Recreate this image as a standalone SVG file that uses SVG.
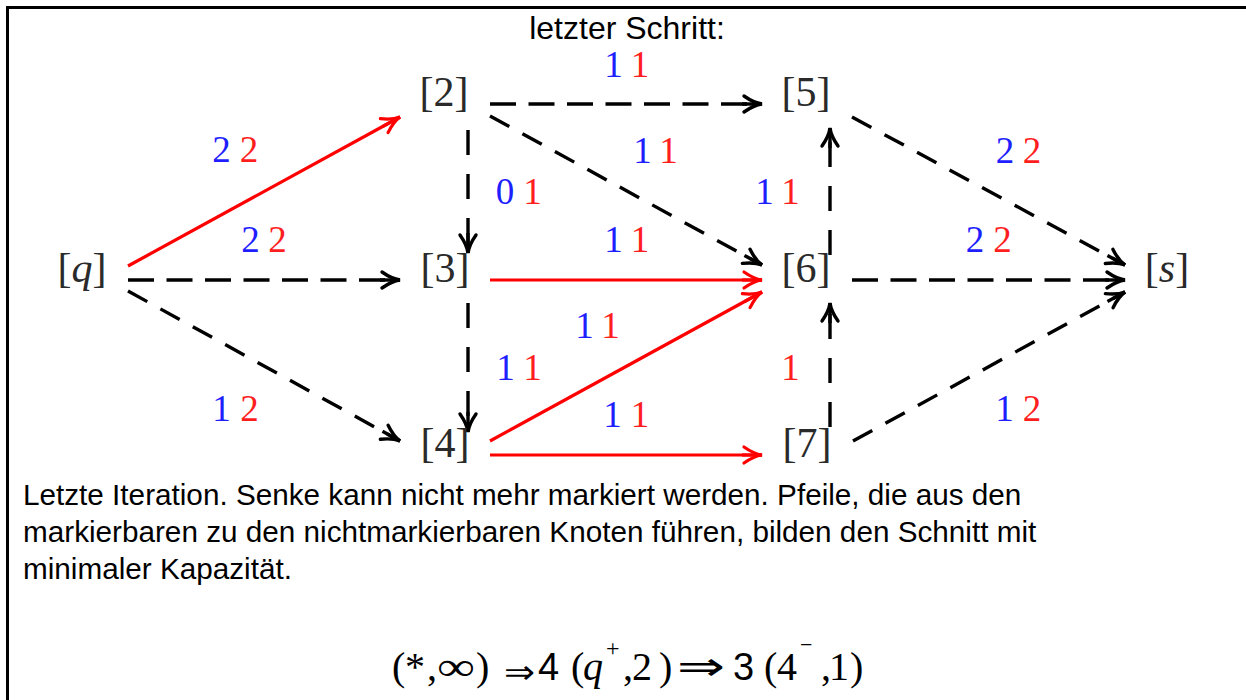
<svg xmlns="http://www.w3.org/2000/svg" width="1246" height="700" viewBox="0 0 1246 700">
  <style>
    .node { font-family: "Liberation Serif", "DejaVu Serif", serif; font-size: 42px; fill: #2a2a2a; text-anchor: middle; }
    .lbl { font-family: "Liberation Serif", "DejaVu Serif", serif; font-size: 37px; text-anchor: middle; }
    .b { fill: #1e1eff; }
    .r { fill: #ff1e1e; }
    .red { stroke: #ff0000; stroke-width: 3.2; fill: none; }
    .blk { stroke: #000; stroke-width: 3.4; fill: none; }
    .dh { stroke-dasharray: 26 12.5; }
    .dv { stroke-dasharray: 25 19; }
    .dd { stroke-dasharray: 22 15; }
    .sans { font-family: "Liberation Sans", Arial, sans-serif; fill: #000; }
    .ser { font-family: "Liberation Serif", "DejaVu Serif", serif; fill: #000; }
  </style>
  <defs>
    <marker id="ahB" markerUnits="userSpaceOnUse" markerWidth="26" markerHeight="22" refX="22" refY="11" orient="auto" overflow="visible">
      <path d="M2,11 L22,11" stroke="#000" stroke-width="3.4" fill="none"/>
      <path d="M4,3 Q14,10 22,11 Q14,12 4,19" stroke="#000" stroke-width="3.4" fill="none" stroke-linecap="round"/>
    </marker>
    <marker id="ahR" markerUnits="userSpaceOnUse" markerWidth="26" markerHeight="22" refX="22" refY="11" orient="auto" overflow="visible">
      <path d="M2,11 L22,11" stroke="#ff0000" stroke-width="3.2" fill="none"/>
      <path d="M4,3 Q14,10 22,11 Q14,12 4,19" stroke="#ff0000" stroke-width="3.2" fill="none" stroke-linecap="round"/>
    </marker>
  </defs>

  <rect x="0" y="0" width="1246" height="700" fill="#ffffff"/>
  <rect x="7.5" y="7.5" width="1260" height="720" fill="none" stroke="#000" stroke-width="3"/>

  <text id="title" class="sans" x="627" y="39" font-size="32" text-anchor="middle">letzter Schritt:</text>

  <g id="connectors">
    <g id="edge-q-2">
      <line class="red" x1="128" y1="266" x2="400" y2="117" marker-end="url(#ahR)"/>
      <text class="lbl b" x="221.5" y="162">2</text><text class="lbl r" x="249" y="162">2</text>
    </g>
    <g id="edge-q-3">
      <line class="blk dh" x1="128" y1="280" x2="400" y2="280" marker-end="url(#ahB)"/>
      <text class="lbl b" x="250.5" y="252">2</text><text class="lbl r" x="277.5" y="252">2</text>
    </g>
    <g id="edge-q-4">
      <line class="blk dd" x1="128" y1="291" x2="400" y2="441" marker-end="url(#ahB)"/>
      <text class="lbl b" x="221.5" y="421">1</text><text class="lbl r" x="249.5" y="421">2</text>
    </g>
    <g id="edge-2-5">
      <line class="blk dh" x1="490" y1="104" x2="762" y2="104" marker-end="url(#ahB)"/>
      <text class="lbl b" x="613.5" y="77">1</text><text class="lbl r" x="640" y="77">1</text>
    </g>
    <g id="edge-2-6">
      <line class="blk dd" x1="490" y1="116" x2="762" y2="265" marker-end="url(#ahB)"/>
      <text class="lbl b" x="642.5" y="163">1</text><text class="lbl r" x="668.5" y="163">1</text>
    </g>
    <g id="edge-2-3">
      <line class="blk dv" x1="468" y1="130" x2="468" y2="253" marker-end="url(#ahB)"/>
      <text class="lbl b" x="505" y="204">0</text><text class="lbl r" x="532.5" y="204">1</text>
    </g>
    <g id="edge-3-6">
      <line class="red" x1="490" y1="280" x2="762" y2="280" marker-end="url(#ahR)"/>
      <text class="lbl b" x="613.5" y="252">1</text><text class="lbl r" x="640" y="252">1</text>
    </g>
    <g id="edge-3-4">
      <line class="blk dv" x1="468" y1="303" x2="468" y2="432" marker-end="url(#ahB)"/>
      <text class="lbl b" x="505.5" y="380">1</text><text class="lbl r" x="532.5" y="380">1</text>
    </g>
    <g id="edge-4-6">
      <line class="red" x1="490" y1="441" x2="762" y2="292" marker-end="url(#ahR)"/>
      <text class="lbl b" x="584.5" y="338">1</text><text class="lbl r" x="610.5" y="338">1</text>
    </g>
    <g id="edge-4-7">
      <line class="red" x1="490" y1="455" x2="762" y2="455" marker-end="url(#ahR)"/>
      <text class="lbl b" x="612.5" y="427">1</text><text class="lbl r" x="640" y="427">1</text>
    </g>
    <g id="edge-6-5">
      <line class="blk dv" x1="830" y1="255" x2="830" y2="128" marker-end="url(#ahB)"/>
      <text class="lbl b" x="764.5" y="204">1</text><text class="lbl r" x="790.5" y="204">1</text>
    </g>
    <g id="edge-7-6">
      <line class="blk dv" x1="830" y1="427" x2="830" y2="303" marker-end="url(#ahB)"/>
      <text class="lbl r" x="790.5" y="380">1</text>
    </g>
    <g id="edge-5-s">
      <line class="blk dd" x1="852" y1="117" x2="1125" y2="265" marker-end="url(#ahB)"/>
      <text class="lbl b" x="1005" y="163">2</text><text class="lbl r" x="1032" y="163">2</text>
    </g>
    <g id="edge-6-s">
      <line class="blk dh" x1="852" y1="280" x2="1125" y2="280" marker-end="url(#ahB)"/>
      <text class="lbl b" x="975" y="252">2</text><text class="lbl r" x="1002.5" y="252">2</text>
    </g>
    <g id="edge-7-s">
      <line class="blk dd" x1="853" y1="441" x2="1125" y2="292" marker-end="url(#ahB)"/>
      <text class="lbl b" x="1004.5" y="421">1</text><text class="lbl r" x="1032" y="421">2</text>
    </g>
  </g>

  <g id="node-q"><text class="node" x="82" y="282">[<tspan font-style="italic">q</tspan>]</text></g>
  <g id="node-2"><text class="node" x="444" y="106">[2]</text></g>
  <g id="node-3"><text class="node" x="445" y="282">[3]</text></g>
  <g id="node-4"><text class="node" x="445" y="457">[4]</text></g>
  <g id="node-5"><text class="node" x="806" y="106">[5]</text></g>
  <g id="node-6"><text class="node" x="806" y="282">[6]</text></g>
  <g id="node-7"><text class="node" x="807" y="457">[7]</text></g>
  <g id="node-s"><text class="node" x="1167" y="282">[<tspan font-style="italic">s</tspan>]</text></g>

  <g id="caption">
    <text class="sans" x="23" y="505" font-size="29.7">Letzte Iteration. Senke kann nicht mehr markiert werden. Pfeile, die aus den</text>
    <text class="sans" x="23" y="542" font-size="29.7">markierbaren zu den nichtmarkierbaren Knoten führen, bilden den Schnitt mit</text>
    <text class="sans" x="23" y="579" font-size="29.7">minimaler Kapazität.</text>
  </g>

  <g id="formula">
    <text class="ser" y="680" font-size="40"><tspan x="392">(</tspan><tspan x="405">*</tspan><tspan x="427">,</tspan><tspan x="476">)</tspan></text>
    <text class="ser" x="437" y="680" font-size="40" textLength="38" lengthAdjust="spacingAndGlyphs">∞</text>
    <text x="504" y="683" font-size="32" font-family="'DejaVu Sans', sans-serif" fill="#000" textLength="31" lengthAdjust="spacingAndGlyphs">⇒</text>
    <text class="sans" x="538" y="680" font-size="38">4</text>
    <text class="ser" y="680" font-size="40"><tspan x="571">(</tspan><tspan x="583" font-style="italic">q</tspan><tspan x="623">,</tspan><tspan x="632">2</tspan><tspan x="659">)</tspan></text>
    <text class="ser" x="606" y="656" font-size="24">+</text>
    <text x="677" y="680" font-size="40" font-family="'DejaVu Sans', sans-serif" fill="#000" textLength="48" lengthAdjust="spacingAndGlyphs">⇒</text>
    <text class="sans" x="733" y="680" font-size="38">3</text>
    <text class="ser" y="680" font-size="40"><tspan x="764">(</tspan><tspan x="777">4</tspan><tspan x="821">,</tspan><tspan x="829">1</tspan><tspan x="850">)</tspan></text>
    <text class="ser" x="800" y="652" font-size="22">−</text>
  </g>
</svg>
